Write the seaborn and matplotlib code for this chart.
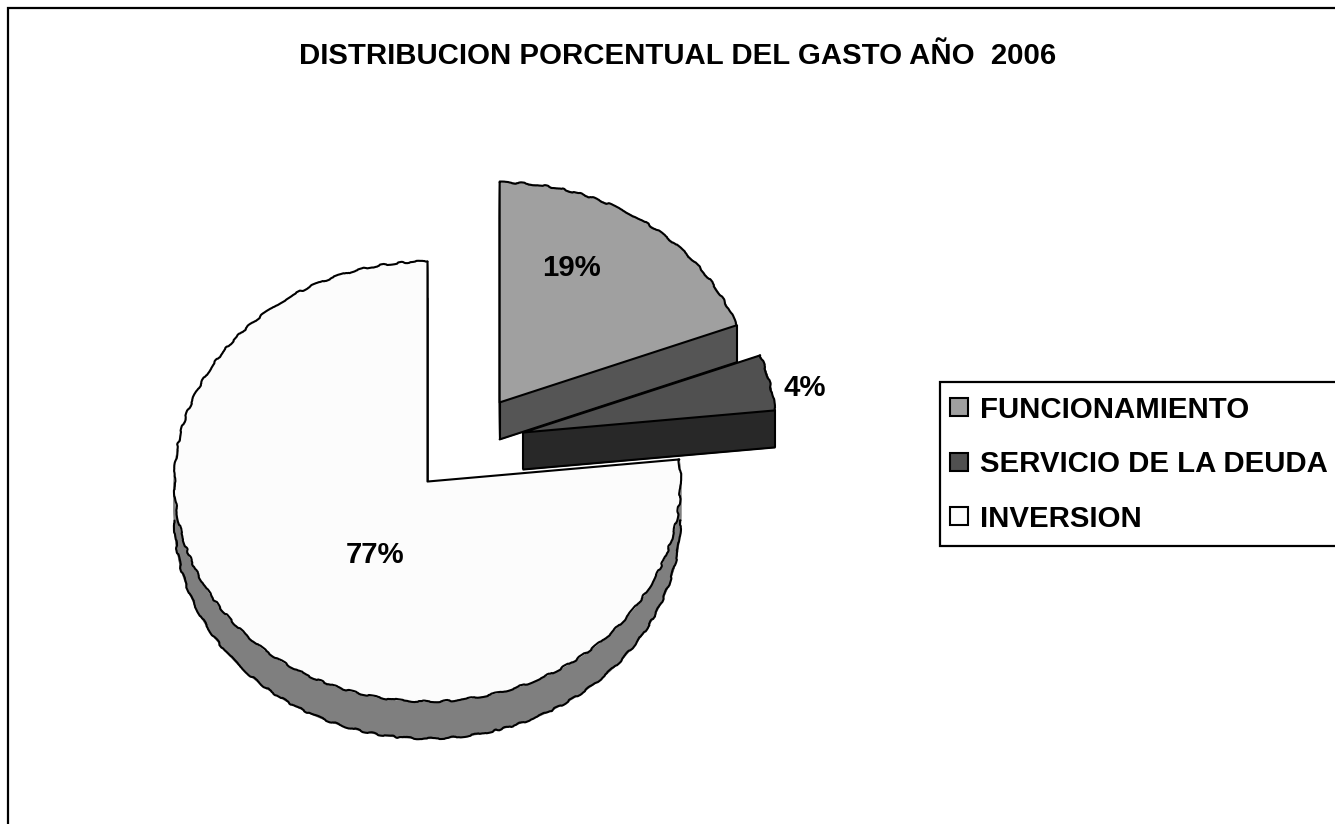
import matplotlib
matplotlib.use("Agg")
from matplotlib import pyplot as plt
from matplotlib.patches import Patch, Rectangle
import numpy as np
import seaborn as sns

# === Data ===
categories = ["FUNCIONAMIENTO", "SERVICIO DE LA DEUDA", "INVERSION"]
percents = [19.3, 4.1, 76.6]   # printed rounded on the chart
title = "DISTRIBUCION PORCENTUAL DEL GASTO AÑO  2006"

top_colors = ["#A0A0A0", "#505050", "#FCFCFC"]
side_colors = ["#555555", "#282828", "#7F7F7F"]
draw_rank = [1, 2, 0]   # inversion goes at the back

# === Layout, in pixels of the 1335x824 image ===
W, H = 1335, 824
RX, RY = 253, 220
CX, CY = 466.5, 444
DEPTH = 37
EXPLODE = 0.23
FONT = 21.2

sns.set_theme(style="white")
plt.rcParams["font.family"] = ["Liberation Sans", "DejaVu Sans"]

fig = plt.figure(figsize=(W / 100, H / 100), dpi=100, facecolor="white")
ax = fig.add_axes([0, 0, 1, 1])


def make_pie(dy, colors):
    wedges, _ = ax.pie(percents, explode=[EXPLODE] * 3, startangle=90, counterclock=False,
                       colors=colors, center=(0, -dy / RY))
    return wedges


def draw_rim(x, y, z):
    # only the rim gets the rough look of the original, straight cuts stay clean
    rim = ax.plot(x, y, color="black", lw=1.5, zorder=z)[0]
    rim.set_sketch_params(scale=0.9, length=40, randomness=8)


def arc_points(w):
    a = np.radians(np.linspace(w.theta1, w.theta2, 400))
    return w.center[0] + np.cos(a), w.center[1] + np.sin(a), np.sin(a)


# side wall: stacked copies of the pie going down
for d in range(1, DEPTH + 1):
    for i, w in enumerate(make_pie(d, side_colors)):
        w.set_edgecolor(side_colors[i])
        w.set_linewidth(1)
        w.set_zorder(draw_rank[i] * 10 + 1 + (DEPTH - d) * 0.01)

# lower outline of the wall: the front half of the rim and the cut facing the viewer
for i, w in enumerate(make_pie(DEPTH, side_colors)):
    w.set_visible(False)
    z = draw_rank[i] * 10 + 2
    x, y, s = arc_points(w)
    draw_rim(x[s < 0], y[s < 0], z)
    ax.plot([w.center[0], x[0]], [w.center[1], y[0]], color="black", lw=1.5, zorder=z)

for i, w in enumerate(make_pie(0, top_colors)):
    z = draw_rank[i] * 10
    w.set_zorder(z + 3)
    w.set_edgecolor(top_colors[i])
    w.set_linewidth(0.5)
    x, y, s = arc_points(w)
    cx, cy = w.center
    draw_rim(x, y, z + 4)
    ax.plot([x[0], cx, x[-1]], [y[0], cy, y[-1]], color="black", lw=1.5, zorder=z + 4)
    # vertical edges of the wall at the cut corners
    for px, py in [(cx, cy), (x[0], y[0]), (x[-1], y[-1])]:
        ax.plot([px, px], [py, py - DEPTH / RY], color="black", lw=1.5, zorder=z + 2,
                solid_capstyle="butt")

# pie() forces equal aspect, the chart is tilted so undo it
ax.set_aspect("auto")
ax.set_xlim(-CX / RX, (W - CX) / RX)
ax.set_ylim((CY - H) / RY, CY / RY)
ax.axis("off")


def fx(x):
    return x / W


def fy(y):
    return 1 - y / H


# outer frame runs off the right and bottom of the picture
fig.add_artist(Rectangle((fx(7.5), fy(H + 20)), fx(W + 20), fy(8) - fy(H + 20), transform=fig.transFigure,
                         fill=False, edgecolor="black", linewidth=1.6))
fig.text(fx(678), fy(56), title, ha="center", va="center", fontsize=FONT, fontweight="bold", color="black")

label_pos = [(572, 268), (805, 388), (375, 555)]
for v, (x, y) in zip(percents, label_pos):
    fig.text(fx(x), fy(y), f"{v:.0f}%", ha="center", va="center", fontsize=FONT, fontweight="bold", color="black")

# legend box
fig.add_artist(Rectangle((fx(939.5), fy(545.5)), fx(W), fy(382) - fy(545.5), transform=fig.transFigure,
                         fill=True, facecolor="white", edgecolor="black", linewidth=1.6, zorder=5))
handles = [Patch(facecolor=c, edgecolor="black", linewidth=1.5) for c in top_colors]
leg = fig.legend(handles, categories, loc="upper left", bbox_to_anchor=(fx(935), fy(381)),
                 frameon=False, prop={"weight": "bold", "size": FONT}, labelcolor="black",
                 handlelength=0.62, handleheight=0.58, handletextpad=0.42,
                 labelspacing=0.9, borderaxespad=0, borderpad=0.5)
leg.set_zorder(6)

plt.savefig("out.png", dpi=100)
